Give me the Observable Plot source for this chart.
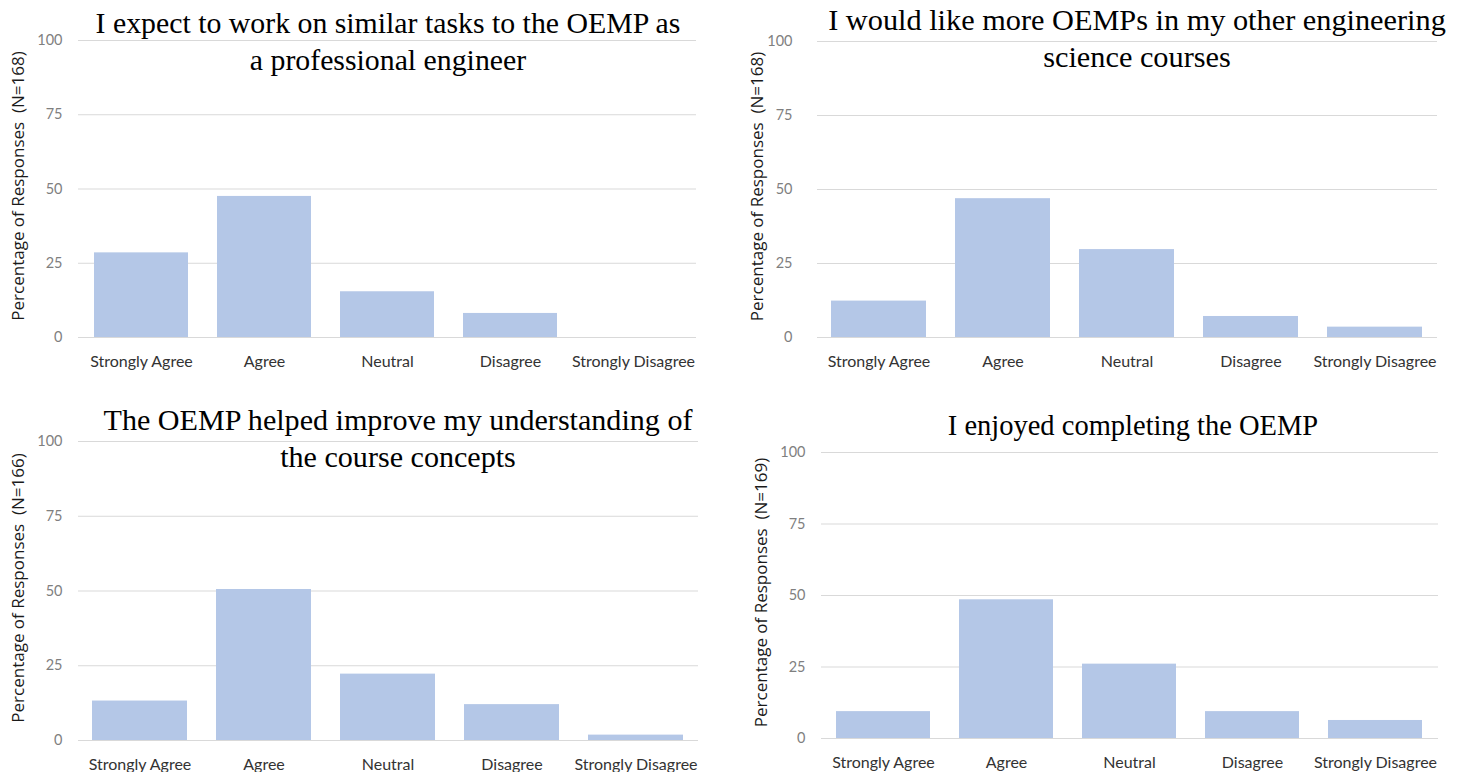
<!DOCTYPE html>
<html>
<head>
<meta charset="utf-8">
<script src="https://cdn.jsdelivr.net/npm/d3@7"></script>
<script src="https://cdn.jsdelivr.net/npm/@observablehq/plot@0.6"></script>
<style>
  body { margin: 0; background: #fff; }
  #root { position: relative; width: 1463px; height: 772px; overflow: hidden; background: #fff; }
  .panel { position: absolute; }
  .title { position: absolute; font-family: "Liberation Serif", "Times New Roman", serif;
           line-height: 37px; text-align: center; color: #000; white-space: nowrap; }
</style>
</head>
<body>
<div id="root"></div>
<script>
// ---- data ----
const categories = ["Strongly Agree", "Agree", "Neutral", "Disagree", "Strongly Disagree"];
const yTicks = [0, 25, 50, 75, 100];

const titleExpect = ["I expect to work on similar tasks to the OEMP as", "a professional engineer"];
const titleMore = ["I would like more OEMPs in my other engineering", "science courses"];
const titleImprove = ["The OEMP helped improve my understanding of", "the course concepts"];
const titleEnjoy = ["I enjoyed completing the OEMP"];

const nExpect = 168;
const nMore = 168;
const nImprove = 166;
const nEnjoy = 169;

const valuesExpect = [28.5, 47.5, 15.4, 8.1, 0];
const valuesMore = [12.3, 46.9, 29.7, 7.1, 3.5];
const valuesImprove = [13.2, 50.5, 22.2, 12.0, 1.8];
const valuesEnjoy = [9.4, 48.5, 26.0, 9.4, 6.3];

// ---- layout ----
const panels = [
  {values: valuesExpect, n: nExpect, title: titleExpect, left: 0, top: 0, width: 730, height: 380,
   mL: 78, mR: 34, mT: 40, mB: 43, yPad: 16, titleCx: 388, titleTop: 4, titleSize: 29.8},
  {values: valuesMore, n: nMore, title: titleMore, left: 730, top: 0, width: 733, height: 380,
   mL: 87, mR: 26, mT: 41, mB: 43, yPad: 25, titleCx: 1137, titleTop: 2, titleSize: 30.3},
  {values: valuesImprove, n: nImprove, title: titleImprove, left: 0, top: 390, width: 730, height: 382,
   mL: 78, mR: 32, mT: 51, mB: 32, yPad: 16, titleCx: 398, titleTop: 402, titleSize: 30.1},
  {values: valuesEnjoy, n: nEnjoy, title: titleEnjoy, left: 730, top: 390, width: 733, height: 382,
   mL: 91, mR: 25, mT: 62, mB: 34, yPad: 16, titleCx: 1133, titleTop: 407, titleSize: 28.5}
];

const root = document.getElementById("root");

for (const p of panels) {
  const data = categories.map((c, i) => ({category: c, value: p.values[i]}));
  const yLabel = "Percentage of Responses\u00a0 (N=" + p.n + ")";
  const chart = Plot.plot({
    width: p.width,
    height: p.height,
    marginLeft: p.mL,
    marginRight: p.mR,
    marginTop: p.mT,
    marginBottom: p.mB,
    style: {fontFamily: "Lato, sans-serif", background: "transparent", overflow: "visible"},
    x: {domain: categories, paddingInner: 0.233, paddingOuter: 0.1165, axis: null},
    y: {domain: [0, 100], axis: null},
    marks: [
      Plot.gridY(yTicks, {stroke: "#d9d9d9", strokeOpacity: 1, strokeWidth: 1}),
      Plot.barY(data, {x: "category", y: "value", fill: "#b4c7e7"}),
      Plot.axisY(yTicks, {tickSize: 0, tickPadding: p.yPad, label: null, color: "#7f7f7f", fontSize: 14.5}),
      Plot.axisX({tickSize: 0, tickPadding: 18, label: null, color: "#333333", fontSize: 16}),
      Plot.text([yLabel], {frameAnchor: "left", textAnchor: "middle", lineAnchor: "middle", dx: -60, dy: -3,
                           rotate: -90, fontFamily: "Open Sans, sans-serif", fontSize: 17, fill: "#1a1a1a"})
    ]
  });
  const div = document.createElement("div");
  div.className = "panel";
  div.style.left = p.left + "px";
  div.style.top = p.top + "px";
  div.appendChild(chart);
  root.appendChild(div);

  const t = document.createElement("div");
  t.className = "title";
  t.style.left = (p.titleCx - 400) + "px";
  t.style.width = "800px";
  t.style.top = p.titleTop + "px";
  t.style.fontSize = p.titleSize + "px";
  t.innerHTML = p.title.map(s => s.replace(/&/g, "&amp;")).join("<br>");
  root.appendChild(t);
}
</script>
</body>
</html>
